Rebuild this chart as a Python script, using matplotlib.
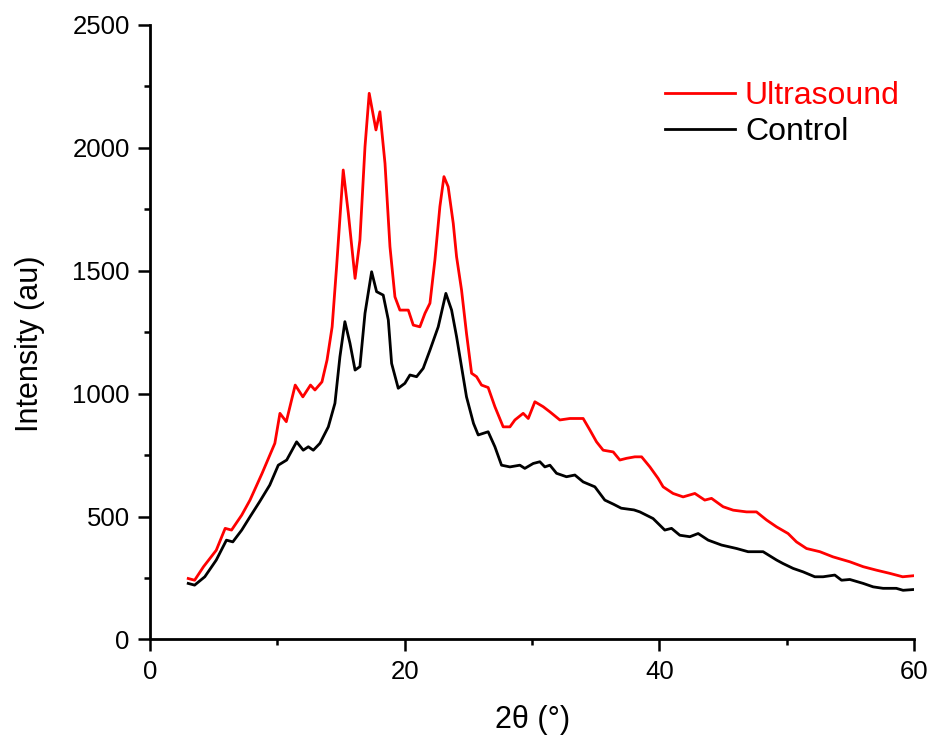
import numpy as np
import matplotlib.pyplot as plt
from matplotlib.ticker import MultipleLocator

plt.rcParams['font.family'] = ['Liberation Sans', 'DejaVu Sans']

# Ultrasound (red) trace
x_us = [3.0, 3.5, 4.2, 5.2, 5.9, 6.4, 7.2, 7.85, 8.8, 9.8, 10.2, 10.7, 11.4, 12.0, 12.6,
        12.95, 13.5, 13.9, 14.3, 14.65, 15.17, 15.57, 16.1, 16.48, 16.88, 17.21, 17.74,
        18.05, 18.45, 18.84, 19.23, 19.62, 20.28, 20.67, 21.19, 21.59, 21.98, 22.37,
        22.76, 23.08, 23.41, 23.81, 24.07, 24.46, 24.85, 25.25, 25.64, 26.03, 26.55,
        27.08, 27.73, 28.26, 28.65, 29.3, 29.7, 30.22, 30.87, 31.4, 32.18, 32.97, 34.01,
        34.54, 35.06, 35.58, 36.37, 36.89, 37.42, 38.07, 38.6, 39.25, 39.9, 40.29, 41.07,
        41.86, 42.78, 43.56, 44.09, 45.0, 45.79, 46.84, 47.62, 48.41, 49.2, 50.1, 50.76,
        51.55, 52.6, 53.63, 54.95, 56.0, 57.03, 58.08, 59.1, 59.9]
i_us = [248, 241, 296, 363, 452, 445, 506, 567, 676, 798, 920, 886, 1035, 987, 1035,
        1015, 1048, 1137, 1272, 1517, 1910, 1734, 1469, 1625, 2005, 2222, 2073,
        2147, 1937, 1598, 1394, 1340, 1340, 1279, 1272, 1327, 1368, 1544,
        1761, 1883, 1842, 1693, 1557, 1422, 1245, 1083, 1069, 1035, 1025,
        947, 865, 865, 893, 920, 899, 967, 947, 926, 893, 899, 899,
        852, 804, 770, 763, 730, 737, 743, 743, 702, 655, 621, 594,
        580, 594, 567, 574, 540, 526, 519, 519, 486, 458, 431, 397,
        370, 357, 336, 316, 296, 282, 269, 255, 259]

# Control (black) trace
x_ct = [3.0, 3.5, 4.3, 5.2, 6.0, 6.5, 7.2, 7.85, 8.6, 9.4, 10.07, 10.73, 11.51, 12.03,
        12.43, 12.82, 13.34, 14.0, 14.52, 14.91, 15.3, 15.7, 16.1, 16.48, 16.88, 17.4,
        17.79, 18.31, 18.71, 18.97, 19.49, 20.01, 20.41, 20.93, 21.45, 21.98, 22.63,
        23.23, 23.68, 24.07, 24.85, 25.4, 25.77, 26.55, 27.08, 27.6, 28.26, 29.04,
        29.43, 30.09, 30.61, 31.0, 31.4, 31.92, 32.7, 33.36, 34.01, 34.93, 35.71, 36.4,
        37.0, 38.0, 38.46, 39.5, 40.42, 40.95, 41.6, 42.39, 43.04, 43.83, 44.88, 46.06,
        46.96, 48.14, 49.2, 49.7, 50.5, 51.28, 52.2, 52.85, 53.77, 54.3, 54.95, 56.0,
        56.78, 57.56, 58.6, 59.13, 59.92]
i_ct = [228, 221, 255, 323, 404, 397, 445, 499, 560, 628, 709, 730, 804, 770,
        784, 770, 798, 865, 961, 1150, 1293, 1205, 1096, 1110, 1327, 1496,
        1415, 1401, 1300, 1123, 1022, 1042, 1076, 1069, 1103, 1177, 1272,
        1408, 1340, 1232, 987, 879, 832, 845, 784, 709, 702, 709,
        696, 716, 723, 702, 709, 676, 662, 669, 641, 621, 567, 550,
        534, 527, 519, 492, 445, 452, 424, 418, 431, 404, 384, 370,
        357, 357, 323, 309, 289, 275, 255, 255, 262, 241, 244, 228,
        214, 208, 208, 200, 203]

fig = plt.figure(figsize=(9.29, 7.35), dpi=100)
ax = fig.add_axes([0.1615, 0.130, 0.8225, 0.836])

ax.plot(x_us, i_us, color='#ff0000', lw=2, label='Ultrasound')
ax.plot(x_ct, i_ct, color='black', lw=2, label='Control')

ax.set_xlim(0, 60)
ax.set_ylim(0, 2500)
ax.xaxis.set_major_locator(MultipleLocator(20))
ax.xaxis.set_minor_locator(MultipleLocator(10))
ax.yaxis.set_major_locator(MultipleLocator(500))
ax.yaxis.set_minor_locator(MultipleLocator(250))

for s in ['top', 'right']:
    ax.spines[s].set_visible(False)
for s in ['left', 'bottom']:
    ax.spines[s].set_linewidth(2)
ax.tick_params(which='major', direction='out', length=8.6, width=1.8, labelsize=18.5, pad=6)
ax.tick_params(which='minor', direction='out', length=4.3, width=1.8)

ax.set_xlabel('2θ (°)', fontsize=22)
ax.set_ylabel('Intensity (au)', fontsize=22)
ax.xaxis.set_label_coords(0.5, -0.107)
ax.yaxis.set_label_coords(-0.138, 0.482)

ax.legend(loc='center left', bbox_to_anchor=(0.674, 0.855), frameon=False, fontsize=23,
          labelcolor='linecolor', handlelength=2.2, handletextpad=0.3,
          labelspacing=0.2, borderpad=0, borderaxespad=0)

fig.savefig('out.png', dpi=100)
